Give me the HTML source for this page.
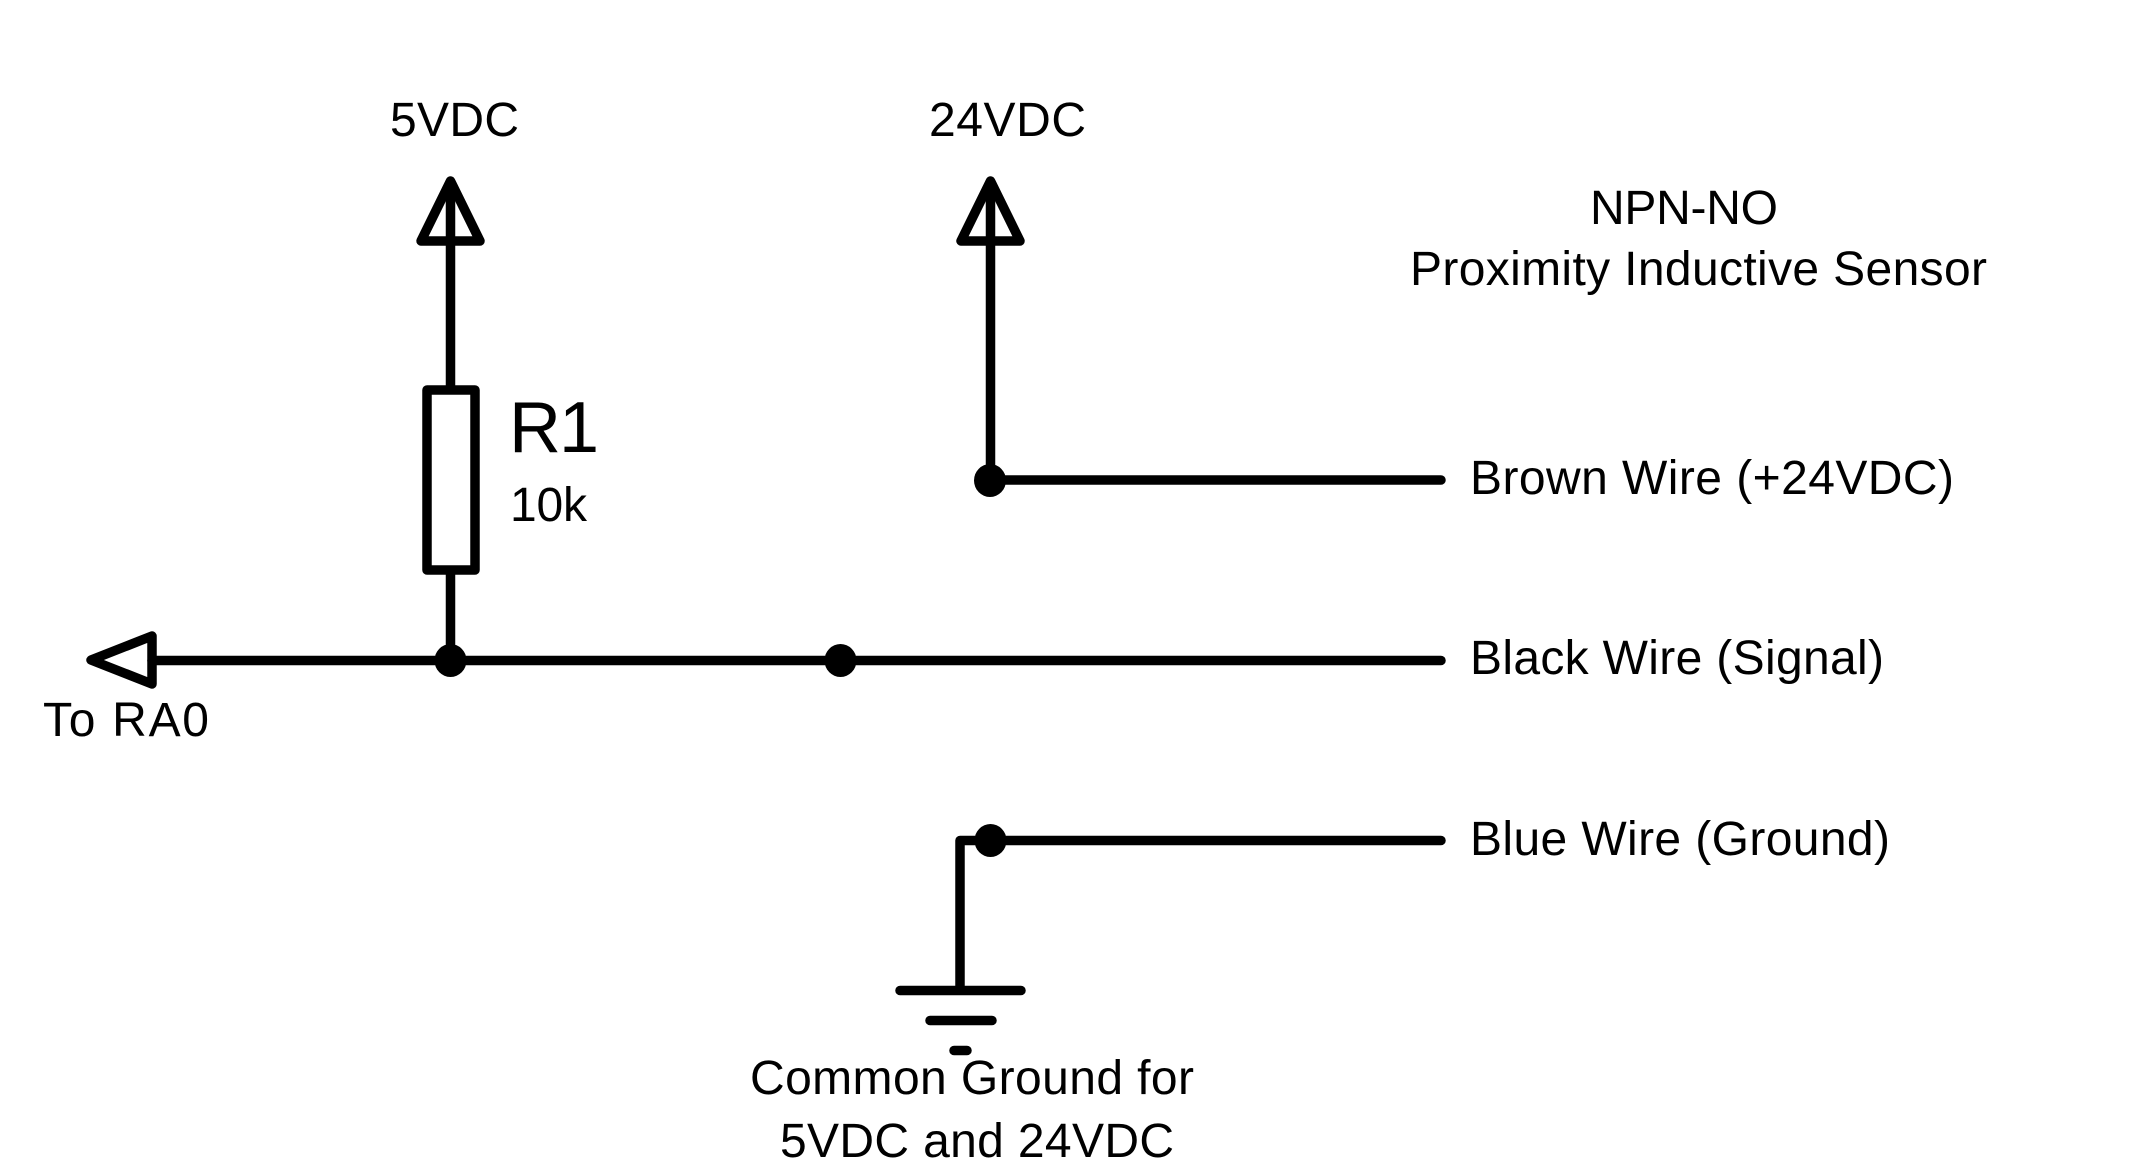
<!DOCTYPE html>
<html><head><meta charset="utf-8"><style>
html,body{margin:0;padding:0;background:#fff;width:2131px;height:1171px;overflow:hidden}
svg{display:block}
text{font-family:"Liberation Sans",Arial,sans-serif;font-size:48px;fill:#000}
.w{fill:none;stroke:#000;stroke-width:9.5;stroke-linecap:round;stroke-linejoin:round}
</style></head><body>
<svg width="2131" height="1171" viewBox="0 0 2131 1171" xmlns="http://www.w3.org/2000/svg">
<rect width="2131" height="1171" fill="#fff"/>
<g class="w">
<path d="M450.5 184V386M450.5 574V660"/>
<path d="M421 241H480L450.5 181Z"/>
<rect x="427" y="390" width="48" height="180"/>
<path d="M990.5 184V480H1441"/>
<path d="M961 241H1020L990.5 181Z"/>
<path d="M152 660.5H1441"/>
<path d="M152 636V684L91 660Z"/>
<path d="M1441 840.5H960V990"/>
<path d="M900 990.5H1021M930 1020.5H992M954 1050.5H967"/>
</g>
<ellipse cx="450.5" cy="660.5" rx="16" ry="16.5"/>
<ellipse cx="840.5" cy="660.5" rx="16" ry="16.5"/>
<ellipse cx="990" cy="480.5" rx="16" ry="16.5"/>
<ellipse cx="990.5" cy="840.5" rx="16" ry="16.5"/>
<text x="390" y="136" textLength="129">5VDC</text>
<text x="929" y="136" textLength="157">24VDC</text>
<text x="1590" y="224" textLength="188">NPN-NO</text>
<text x="1410" y="285" textLength="577">Proximity Inductive Sensor</text>
<text x="509" y="452" style="font-size:72px" textLength="90">R1</text>
<text x="510" y="521" textLength="77">10k</text>
<text x="1470" y="494" textLength="484">Brown Wire (+24VDC)</text>
<text x="1470" y="674" textLength="414">Black Wire (Signal)</text>
<text x="1470" y="855" textLength="420">Blue Wire (Ground)</text>
<text x="43" y="736" textLength="166">To RA0</text>
<text x="750" y="1094" textLength="444">Common Ground for</text>
<text x="780" y="1157" textLength="394">5VDC and 24VDC</text>
</svg>
</body></html>
